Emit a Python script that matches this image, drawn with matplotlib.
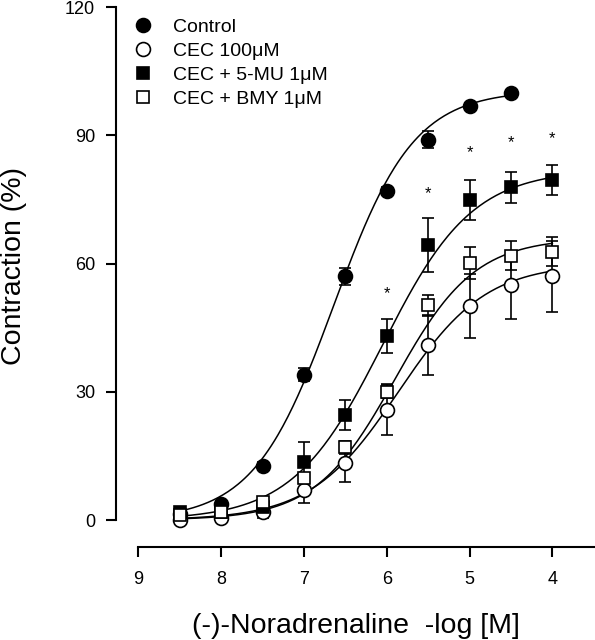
import numpy as np
import matplotlib
matplotlib.use("Agg")
import matplotlib.pyplot as plt

plt.rcParams['font.family'] = ['Liberation Sans', 'DejaVu Sans']

# -log[M] concentrations
logc = [8.5, 8, 7.5, 7, 6.5, 6, 5.5, 5, 4.5, 4]

control = [1.5, 3.7, 12.7, 34, 57, 77, 89, 96.8, 99.8]
control_err = [0.5, 0.5, 0.8, 1.5, 2, 0.8, 2, 0.8, 0.8]

cec = [0, 0.5, 2, 7, 13.3, 25.8, 41, 50, 55, 57]
cec_err = [0.5, 0.8, 1.5, 3, 4.3, 6, 7, 7.5, 8, 8.3]

mu = [2, 2, 3, 13.7, 24.6, 43, 64.3, 74.8, 77.8, 79.5]
mu_err = [0.5, 0.5, 1, 4.5, 3.5, 4, 6.3, 4.7, 3.7, 3.5]

bmy = [1.2, 2, 4.3, 9.8, 17, 30, 50.2, 60.2, 61.8, 62.8]
bmy_err = [0.5, 0.5, 0.8, 1, 1.5, 1.5, 2.5, 3.7, 3.4, 3.3]

# estimated Hill fit parameters: top, pEC50, slope
fit_control = (100.5, 6.64, 0.9)
fit_cec = (60, 5.86, 0.82)
fit_mu = (82, 6.05, 0.8)
fit_bmy = (66, 5.9, 0.9)

star_x = [6, 5.5, 5, 4.5, 4]
star_y = [53, 76.3, 86, 88.3, 89.3]

labels = ['Control', 'CEC 100\u03bcM', 'CEC + 5-MU 1\u03bcM', 'CEC + BMY 1\u03bcM']


def hill(x, p):
    top, pec, s = p
    return top / (1 + 10 ** (s * (x - pec)))


fig = plt.figure(figsize=(5.95, 6.4), dpi=100)
ax = fig.add_axes([0.195, 0.1453, 0.805, 0.8437])

series = [
    (control, control_err, fit_control, 'o', 'black', 10),
    (cec, cec_err, fit_cec, 'o', 'white', 10),
    (mu, mu_err, fit_mu, 's', 'black', 9),
    (bmy, bmy_err, fit_bmy, 's', 'white', 9),
]

for i, (vals, err, fit, m, fc, ms) in enumerate(series):
    xs = logc[:len(vals)]
    xx = np.linspace(xs[0], xs[-1], 200)
    ax.plot(xx, hill(xx, fit), color='black', lw=1.1, zorder=2)
    ax.errorbar(xs, vals, yerr=err, fmt='none', ecolor='black',
                elinewidth=1.2, capsize=4.5, capthick=1.2, zorder=3)
    ax.plot(xs, vals, m, ms=ms, mfc=fc, mec='black', mew=1.2,
            linestyle='none', zorder=4, label=labels[i])

for x, y in zip(star_x, star_y):
    ax.text(x, y, '*', ha='center', va='center', fontsize=12)

ax.set_xlim(9.27, 3.485)
ax.set_ylim(-6.3, 120)
ax.set_xticks([9, 8, 7, 6, 5, 4])
ax.set_yticks([0, 30, 60, 90, 120])
ax.spines['top'].set_visible(False)
ax.spines['right'].set_visible(False)
ax.spines['left'].set_bounds(0, 120)
ax.spines['bottom'].set_bounds(9, 3.485)
for sp in ['left', 'bottom']:
    ax.spines[sp].set_linewidth(1.5)
ax.tick_params(direction='out', length=7, width=1.5, labelsize=13)
ax.tick_params(axis='x', pad=10)
ax.tick_params(axis='y', pad=8)

ax.set_xlabel('(-)-Noradrenaline  -log [M]', fontsize=20.5, labelpad=18)
ax.set_ylabel('Contraction (%)', fontsize=20.5)
ax.yaxis.set_label_coords(-0.186, 0.52)

ax.legend(loc='upper left', bbox_to_anchor=(0.02, 0.993), frameon=False,
          fontsize=14, handletextpad=1.04, labelspacing=0.33,
          borderaxespad=0.0, handlelength=1.0)

fig.savefig('out.png', dpi=100)
